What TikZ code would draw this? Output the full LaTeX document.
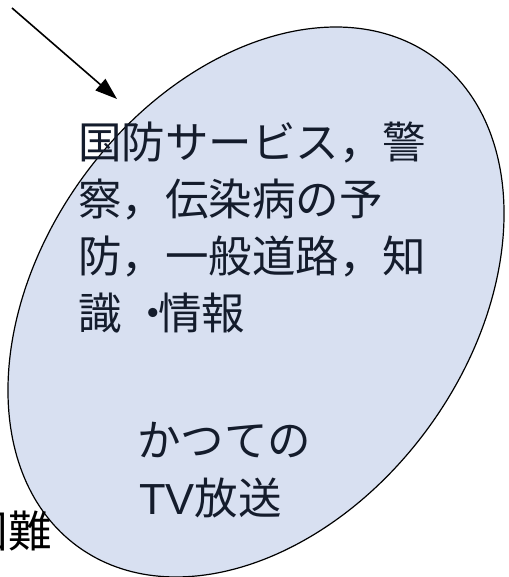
\documentclass[tikz,border=0pt]{standalone}
\usepackage{fontspec}
\newfontfamily\jp{Noto Sans CJK JP}
\newfontfamily\lat{Liberation Sans}
\usetikzlibrary{arrows.meta}
\definecolor{ellfill}{HTML}{D8E0F1}
\definecolor{txt}{HTML}{141C2C}
\tikzset{
  jptext/.style={anchor=base west, inner sep=0pt, text=txt, font=\jp\fontsize{43.5pt}{57pt}\selectfont},
  arrowline/.style={line width=1.6pt, -{Triangle[length=22pt,width=15pt]}},
}
\begin{document}
\begin{tikzpicture}[x=1pt,y=1pt]
\useasboundingbox (0,0) rectangle (508,577);
% ellipse (pixel y flipped: y = 577 - ypx)
\draw[fill=ellfill, line width=1.2pt, rotate around={53.9:(256,275)}] (256,275) ellipse [x radius=302.6pt, y radius=213.4pt];
% arrow
\coordinate (arrS) at (12,569);
\coordinate (arrE) at (117,478);
\draw[arrowline] (arrS) -- (arrE);
% texts
\node[jptext] (l1) at (78,418) {国防サービス，警};
\node[jptext] (l2) at (78,361) {察，伝染病の予};
\node[jptext] (l3) at (78,304) {防，一般道路，知};
\node[jptext] (l4) at (78,247) {識\kern10pt・\kern-17pt情報};
\node[jptext] (k1) at (137,120) {かつての};
\node[jptext] (k2) at (139,62) {{\lat TV}放送};
\node[jptext, text=black] (kon) at (-35.5,29) {困難};
\end{tikzpicture}
\end{document}
